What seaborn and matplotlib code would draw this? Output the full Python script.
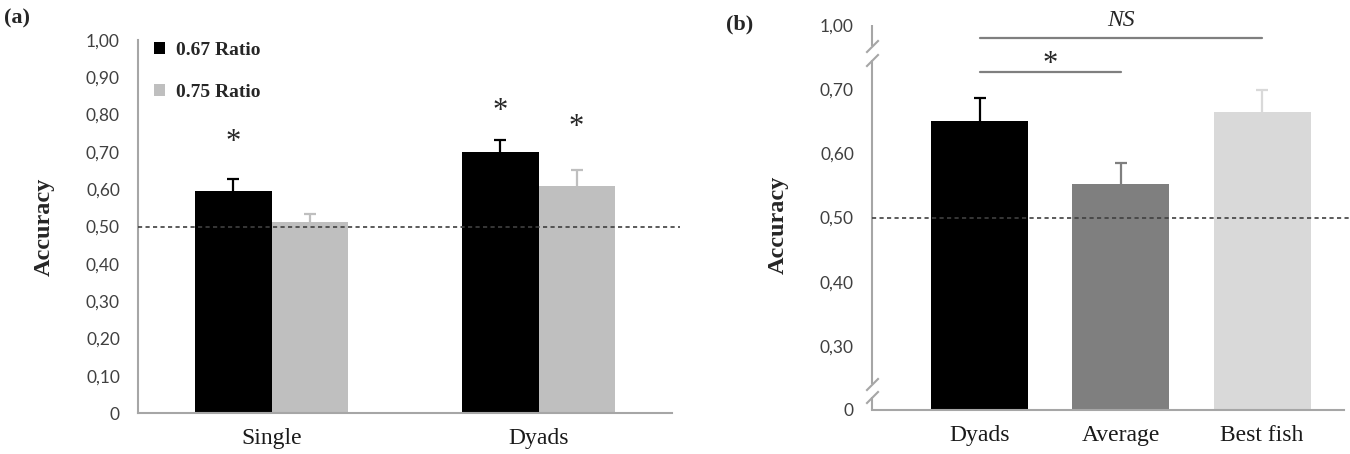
import numpy as np
import pandas as pd
import matplotlib
matplotlib.use('Agg')
import matplotlib.pyplot as plt
import seaborn as sns

# ---- data, panel (a) ----
groups_a = ['Single', 'Dyads']
ratios = ['0.67 Ratio', '0.75 Ratio']
acc_067 = [0.596, 0.699]
acc_075 = [0.511, 0.609]
err_067 = [0.031, 0.032]
err_075 = [0.022, 0.043]
star_067 = [0.724, 0.808]
star_075 = [None, 0.765]

# ---- data, panel (b) ----
groups_b = ['Dyads', 'Average', 'Best fish']
acc_b = [0.651, 0.552, 0.664]
err_b = [0.035, 0.033, 0.035]
sig_pairs = [('Dyads', 'Average', 0.726, '*'),
             ('Dyads', 'Best fish', 0.901, 'NS')]

chance = 0.50
yticks_a = [0, 0.1, 0.2, 0.3, 0.4, 0.5, 0.6, 0.7, 0.8, 0.9, 1.0]
yticks_b = [0, 0.3, 0.4, 0.5, 0.6, 0.7, 1.0]

colors_a = ['#000000', '#bfbfbf']
colors_b = ['#000000', '#7f7f7f', '#d9d9d9']

SERIF = 'Liberation Serif'
AXIS_GREY = '#a6a6a6'
TXT_GREY = '#404040'


def _tick_label(v):
    return '0' if v == 0 else f'{v:.2f}'.replace('.', ',')


def _pw(v, xp, fp):
    """Piecewise linear map with linear extrapolation (broken axis)."""
    v = np.asarray(v, dtype=float)
    out = np.interp(v, xp, fp)
    s0 = (fp[1] - fp[0]) / (xp[1] - xp[0])
    s1 = (fp[-1] - fp[-2]) / (xp[-1] - xp[-2])
    out = np.where(v < xp[0], fp[0] + (v - xp[0]) * s0, out)
    out = np.where(v > xp[-1], fp[-1] + (v - xp[-1]) * s1, out)
    return out


brk_in = [0.0, 0.25, 0.75, 1.0]
brk_out = [0.0, 32.0, 353.0, 385.0]


def fwd(v):
    return _pw(v, brk_in, brk_out)


def inv(v):
    return _pw(v, brk_out, brk_in)


def _style_axis(ax, yticks):
    ax.set_yticks(yticks)
    ax.set_yticklabels([_tick_label(t) for t in yticks])
    for side in ['top', 'right']:
        ax.spines[side].set_visible(False)
    for side in ['left', 'bottom']:
        ax.spines[side].set_color(AXIS_GREY)
        ax.spines[side].set_linewidth(1.5)
    ax.tick_params(axis='y', direction='out', length=5, width=1.2,
                   color=AXIS_GREY, pad=8, labelsize=12.5,
                   labelcolor=TXT_GREY)
    ax.tick_params(axis='x', length=0, pad=11, labelsize=17,
                   labelcolor='#1a1a1a')
    for lab in ax.get_xticklabels():
        lab.set_family(SERIF)
    ax.set_xlabel('')
    ax.set_ylabel('Accuracy', fontsize=17.5, fontweight='bold', family=SERIF)


def _add_errors(ax, errs, colors):
    for cont, err, col in zip(ax.containers, errs, colors):
        for bar, e in zip(cont, err):
            x = bar.get_x() + bar.get_width() / 2
            y = bar.get_height()
            _, caps, _ = ax.errorbar(x, y, yerr=[[0], [e]], fmt='none',
                                     ecolor=col, elinewidth=1.6, capsize=4.5,
                                     capthick=1.6, zorder=3)
            # keep only the upper cap
            caps[0].set_visible(False)


sns.set_style('white')
plt.rcParams['font.family'] = ['Lato', 'DejaVu Sans']

fig = plt.figure(figsize=(13.5, 4.54), dpi=100)

# ---------------- panel (a) ----------------
ax_a = fig.add_axes([138 / 1350, 1 - 413 / 454, 534 / 1350, 373 / 454])
df_a = pd.DataFrame({
    'group': groups_a * 2,
    'ratio': [ratios[0]] * 2 + [ratios[1]] * 2,
    'acc': acc_067 + acc_075,
})
sns.barplot(data=df_a, x='group', y='acc', hue='ratio', palette=colors_a,
            width=0.57, saturation=1, errorbar=None, linewidth=0,
            edgecolor='none', ax=ax_a)
_add_errors(ax_a, [err_067, err_075], colors_a)

for cont, stars in zip(ax_a.containers, [star_067, star_075]):
    for bar, s in zip(cont, stars):
        if s is not None:
            ax_a.text(bar.get_x() + bar.get_width() / 2, s, '*',
                      ha='center', va='center', fontsize=22, family=SERIF)

ax_a.axhline(chance, xmin=0, xmax=1.015, color=TXT_GREY, lw=1.2,
             ls=(0, (2.5, 2)), clip_on=False, zorder=4)
ax_a.set_xlim(-0.5, 1.5)
ax_a.set_ylim(0, 1.0)
_style_axis(ax_a, yticks_a)
ax_a.yaxis.set_label_coords(-83 / 534, 0.5)

handles, labels = ax_a.get_legend_handles_labels()
ax_a.legend(handles, labels, frameon=False, loc='upper left',
            bbox_to_anchor=(0.03, 0.995), borderaxespad=0, borderpad=0,
            handlelength=0.55, handleheight=0.55, handletextpad=0.6,
            labelspacing=1.3,
            prop={'family': SERIF, 'weight': 'bold', 'size': 14})

# ---------------- panel (b) ----------------
ax_b = fig.add_axes([872 / 1350, 1 - 410 / 454, 472 / 1350, 385 / 454])
sns.barplot(x=groups_b, y=acc_b, hue=groups_b, palette=colors_b,
            width=0.686, saturation=1, errorbar=None, legend=False,
            linewidth=0, edgecolor='none', ax=ax_b)
ax_b.set_yscale('function', functions=(fwd, inv))
_add_errors(ax_b, [[e] for e in err_b], colors_b)

ax_b.axhline(chance, xmin=0, xmax=1.02, color=TXT_GREY, lw=1.2,
             ls=(0, (2.5, 2)), clip_on=False, zorder=4)

pos_b = {g: i for i, g in enumerate(groups_b)}
for g1, g2, yv, lab in sig_pairs:
    x1, x2 = pos_b[g1], pos_b[g2]
    ax_b.plot([x1, x2], [yv, yv], color='#7f7f7f', lw=1.6, clip_on=False)
    if lab == 'NS':
        ax_b.annotate(lab, ((x1 + x2) / 2, yv), xytext=(0, 5),
                      textcoords='offset points', ha='center', va='bottom',
                      fontsize=17, family=SERIF, style='italic')
    else:
        ax_b.annotate(lab, ((x1 + x2) / 2, yv), xytext=(0, 6),
                      textcoords='offset points', ha='center', va='center',
                      fontsize=22, family=SERIF)

ax_b.set_xlim(-0.763, 2.58)
ax_b.set_ylim(0, 1.0)
_style_axis(ax_b, yticks_b)
ax_b.yaxis.set_label_coords(-83 / 472, 0.48)

# broken left spine
ax_b.spines['left'].set_visible(False)
trans = ax_b.get_yaxis_transform()
for lo, hi in [(0.0, 0.10), (0.203, 0.746), (0.836, 1.0)]:
    ax_b.plot([0, 0], [lo, hi], transform=trans, color=AXIS_GREY, lw=1.5,
              clip_on=False, solid_capstyle='butt')
ax_b.plot([0, 0, 0, 0], [0.10, 0.203, 0.746, 0.836], transform=trans,
          ls='none', marker=[(-1, -1), (1, 1)], markersize=9,
          mec=AXIS_GREY, mew=1.5, clip_on=False)

fig.text(4 / 1350, 1 - 18 / 454, '(a)', fontsize=16, fontweight='bold',
         family=SERIF, va='center', ha='left')
fig.text(726 / 1350, 1 - 24 / 454, '(b)', fontsize=16, fontweight='bold',
         family=SERIF, va='center', ha='left')

fig.savefig('out.png', dpi=100)
